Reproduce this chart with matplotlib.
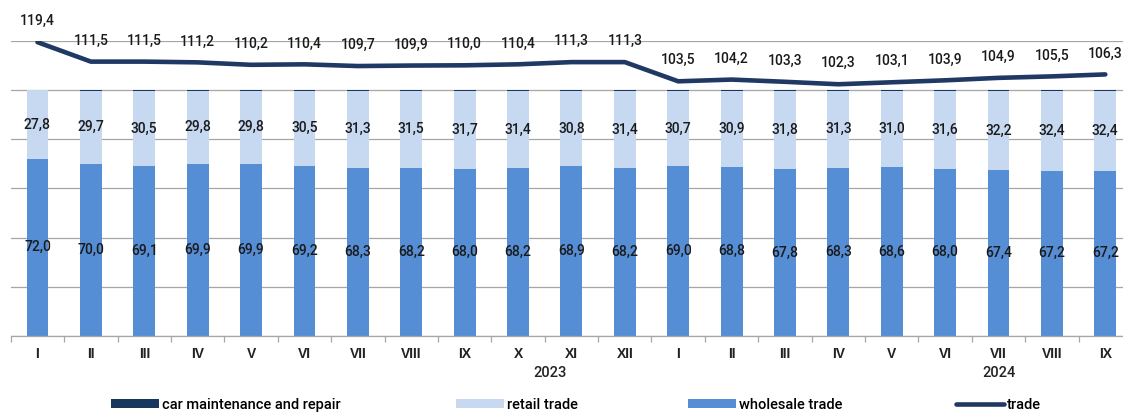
import matplotlib
matplotlib.use("Agg")
import matplotlib.pyplot as plt
from matplotlib.patches import Patch
from matplotlib.lines import Line2D
import numpy as np

months = ["I", "II", "III", "IV", "V", "VI", "VII", "VIII", "IX", "X", "XI", "XII",
          "I", "II", "III", "IV", "V", "VI", "VII", "VIII", "IX"]
wholesale = [72.0, 70.0, 69.1, 69.9, 69.9, 69.2, 68.3, 68.2, 68.0, 68.2, 68.9, 68.2,
             69.0, 68.8, 67.8, 68.3, 68.6, 68.0, 67.4, 67.2, 67.2]
retail = [27.8, 29.7, 30.5, 29.8, 29.8, 30.5, 31.3, 31.5, 31.7, 31.4, 30.8, 31.4,
          30.7, 30.9, 31.8, 31.3, 31.0, 31.6, 32.2, 32.4, 32.4]
car_repair = [0.2, 0.3, 0.4, 0.3, 0.3, 0.3, 0.4, 0.3, 0.3, 0.4, 0.3, 0.4,
              0.3, 0.3, 0.4, 0.4, 0.4, 0.4, 0.4, 0.4, 0.4]
trade = [119.4, 111.5, 111.5, 111.2, 110.2, 110.4, 109.7, 109.9, 110.0, 110.4, 111.3, 111.3,
         103.5, 104.2, 103.3, 102.3, 103.1, 103.9, 104.9, 105.5, 106.3]
years = ["2023", "2024"]

c_whole = "#558ED5"
c_retail = "#C6D9F1"
c_car = "#17375E"
c_line = "#1F3864"
c_grid = "#A6A6A6"

W, H = 1123, 412
fig = plt.figure(figsize=(W / 100, H / 100), dpi=100)
left = 10.8 / W
right = 1132 / W
bottom = (H - 336) / H
top = (H - 40.7) / H
ax = fig.add_axes([left, bottom, right - left, top - bottom])

x = np.arange(len(months))
bw = 0.41
ax.bar(x, wholesale, bw, color=c_whole, zorder=2)
ax.bar(x, retail, bw, bottom=wholesale, color=c_retail, zorder=2)
bot2 = [a + b for a, b in zip(wholesale, retail)]
ax.bar(x, car_repair, bw, bottom=bot2, color=c_car, zorder=2)
ax.plot(x, trade, color=c_line, lw=3.3, zorder=3, solid_capstyle="round")

vfont = dict(family="Roboto", fontsize=10, fontweight="medium", color="#1a1a1a")
fmt = lambda v: f"{v:.1f}".replace(".", ",")
for i in x:
    ax.text(i, wholesale[i] / 2, fmt(wholesale[i]), ha="center", va="center", zorder=4, **vfont)
    ax.text(i, wholesale[i] + retail[i] / 2, fmt(retail[i]), ha="center", va="center", zorder=4, **vfont)
    ax.annotate(fmt(trade[i]), (i, trade[i]), xytext=(0, 10), textcoords="offset points",
                ha="center", va="bottom", zorder=4, annotation_clip=False, **vfont)

ax.set_xlim(-0.5, len(months) - 0.5)
ax.set_ylim(0, 120)
ax.set_yticks(np.arange(0, 121, 20))
ax.yaxis.grid(True, color=c_grid, lw=0.9, zorder=0)
ax.tick_params(axis="y", left=False, labelleft=False)
for s in ["left", "right", "top"]:
    ax.spines[s].set_visible(False)
ax.spines["bottom"].set_color(c_grid)
ax.spines["bottom"].set_linewidth(0.9)

ax.set_xticks(x)
ax.set_xticklabels(months, fontfamily="Liberation Sans", fontweight="bold", fontsize=10, color="#222222")
ax.set_xticks(np.arange(-0.5, len(months), 1), minor=True)
ax.tick_params(axis="x", which="major", length=0, pad=8)
ax.tick_params(axis="x", which="minor", length=4, color=c_grid, width=0.9)

ax.text(9.6, -15, years[0], ha="center", va="center", family="Roboto", fontweight="medium",
        fontsize=10.5, color="#222222")
ax.text(18.0, -15, years[1], ha="center", va="center", family="Roboto", fontweight="medium",
        fontsize=10.5, color="#222222")

handles = [
    Patch(facecolor=c_car, edgecolor="none"),
    Patch(facecolor=c_retail, edgecolor="none"),
    Patch(facecolor=c_whole, edgecolor="none"),
    Line2D([0], [0], color=c_line, lw=3.3, solid_capstyle="round"),
]
labels = ["car maintenance and repair", "retail trade", "wholesale trade", "trade"]
xs = [111, 456, 688, 956]
for h, l, xp in zip(handles, labels, xs):
    fig.legend([h], [l], loc="center left", bbox_to_anchor=(xp / W, 1 - 405 / H),
               frameon=False, handlelength=3.3, handleheight=0.6, handletextpad=0.2,
               borderaxespad=0, borderpad=0,
               prop=dict(family="Roboto", size=10.5, weight="medium"))

fig.savefig("out.png", dpi=100)
